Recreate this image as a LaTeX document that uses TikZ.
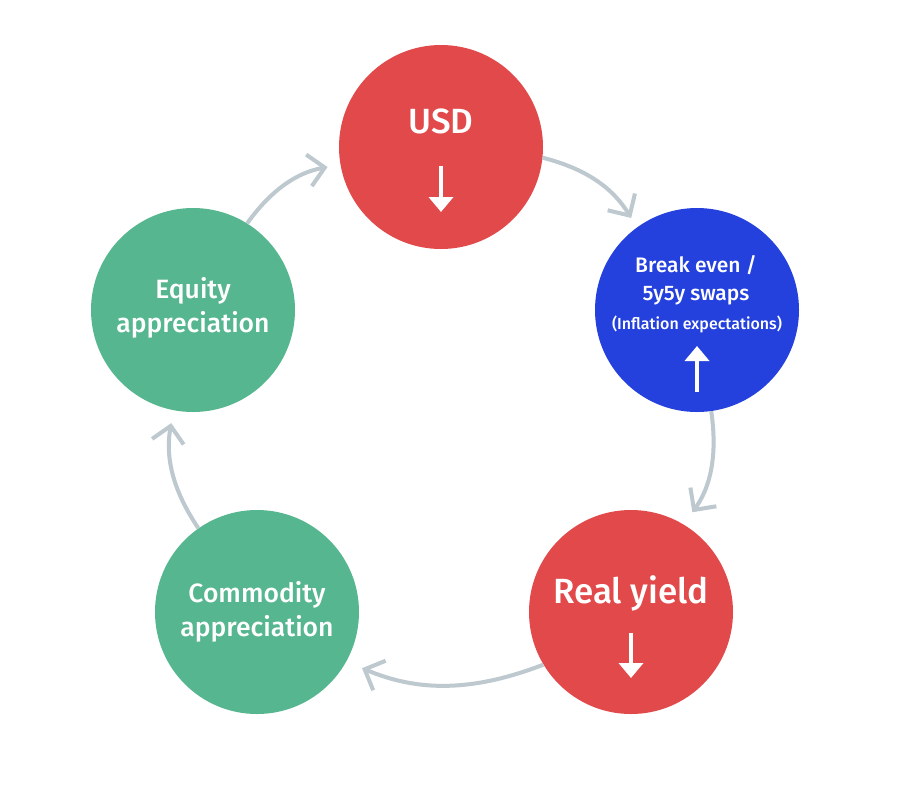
\documentclass[tikz,border=0pt]{standalone}
\usepackage{fontspec}
\setmainfont{Fira Sans}
\newfontfamily\medfont{Fira Sans Medium}
\usetikzlibrary{arrows.meta}
\definecolor{cred}{HTML}{E2494A}
\definecolor{cblue}{HTML}{2440DD}
\definecolor{cgreen}{HTML}{56B690}
\definecolor{cgray}{HTML}{BDC8CF}
\begin{document}
\begin{tikzpicture}[x=1pt,y=-1pt,
  bubble/.style={circle,minimum size=204pt,inner sep=0pt,draw=none},
  link/.style={draw=cgray,line width=4pt,bend left=22,
    -{Straight Barb[length=16pt,width=32pt]}},
  txt/.style={text=white,inner sep=0pt,anchor=base},
  big/.style={font=\medfont\fontsize{35}{40}\selectfont},
  mid/.style={font=\medfont\fontsize{26.5}{30}\selectfont},
  sml/.style={font=\medfont\fontsize{21}{24}\selectfont},
  tiny/.style={font=\medfont\fontsize{16}{19}\selectfont},
  dirarrow/.style={draw=white,line width=4pt,-{Triangle[length=15pt,width=24pt]}}]
\useasboundingbox (0,0) rectangle (902,788);
\fill[white] (0,0) rectangle (902,788);
% bubbles
\node[bubble,fill=cred]   (usd) at (441,147) {};
\node[bubble,fill=cblue]  (be)  at (697,310) {};
\node[bubble,fill=cred]   (ry)  at (631,612) {};
\node[bubble,fill=cgreen] (com) at (257,612) {};
\node[bubble,fill=cgreen] (eq)  at (193,310) {};
% connectors
\draw[link,shorten >=11pt] (usd.-6) to (be.126);
\draw[link,shorten >=15pt] (be.-82) to (ry.59);
\draw[link,shorten >=17pt] (ry.-149) to (com.-29);
\draw[link,shorten >=13pt] (com.125) to (eq.-101);
\draw[link,shorten >=13pt] (eq.58) to (usd.190);
% texts
\node[txt,big] (usdt) at (441,133) {USD};
\node[txt,sml] (be1) at (696,272) {Break even /};
\node[txt,sml] (be2) at (696,300) {5y5y swaps};
\node[txt,tiny] (be3) at (697,329) {(Inflation expectations)};
\node[txt,big] (ryt) at (631,603) {Real yield};
\node[txt,mid] (com1) at (257,602) {Commodity};
\node[txt,mid] (com2) at (257,636) {appreciation};
\node[txt,mid] (eq1) at (193,298) {Equity};
\node[txt,mid] (eq2) at (193,332) {appreciation};
% direction arrows
\coordinate (usdA) at (441,166); \coordinate (usdB) at (441,212);
\coordinate (beA) at (697,392);  \coordinate (beB) at (697,346);
\coordinate (ryA) at (631,633);  \coordinate (ryB) at (631,678);
\draw[dirarrow] (usdA) -- (usdB);
\draw[dirarrow] (beA) -- (beB);
\draw[dirarrow] (ryA) -- (ryB);
\end{tikzpicture}
\end{document}
